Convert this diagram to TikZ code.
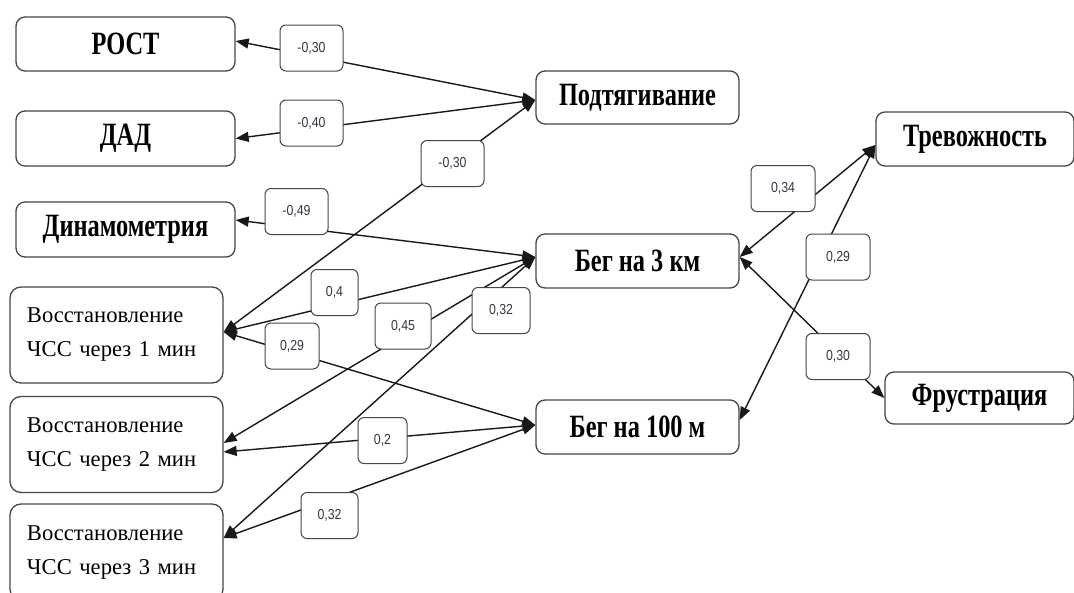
\documentclass[tikz,border=0pt]{standalone}
\usepackage{fontspec}
\setmainfont{Liberation Serif}
\newfontfamily\boldcond[FakeStretch=0.75]{Liberation Serif}
\newfontfamily\numfont[FakeStretch=0.85]{Liberation Sans}
\usetikzlibrary{arrows.meta}
\definecolor{labtext}{RGB}{60,50,72}
\definecolor{boxline}{RGB}{70,70,70}
\tikzset{
  x=1pt, y=-1pt,
  mainbox/.style={draw=boxline, line width=1.3pt, rounded corners=9pt, fill=white,
    inner sep=0pt, font=\boldcond\bfseries\fontsize{32.5}{32.5}\selectfont},
  recbox/.style={draw=boxline, line width=1.3pt, rounded corners=11pt, fill=white,
    inner xsep=17pt, inner ysep=0pt, text width=179pt, minimum height=96pt, align=left,
    font=\fontsize{22.6}{34}\selectfont},
  lab/.style={draw=boxline, line width=1pt, rounded corners=6pt, fill=white,
    inner sep=0pt, minimum height=46pt, text=labtext,
    font=\numfont\fontsize{14.5}{14.5}\selectfont},
  link/.style={line width=1.4pt, draw=black!90,
    {Triangle[length=13pt,width=10pt]}-{Triangle[length=13pt,width=10pt]}}
}
\begin{document}
\begin{tikzpicture}
\fill[white] (0,0) rectangle (1074,592);
\useasboundingbox (0,0) rectangle (1074,592);

% main nodes
\node[mainbox, minimum width=219pt, minimum height=54pt] (rost) at (125.5,44) {РОСТ};
\node[mainbox, minimum width=219pt, minimum height=55pt] (dad) at (125.5,138.5) {ДАД};
\node[mainbox, minimum width=219pt, minimum height=55pt] (dyn) at (125.5,229.5) {Динамометрия};
\node[recbox] (v1) at (116.5,335) {Восстановление\\ЧСС через 1 мин};
\node[recbox] (v2) at (116.5,444.5) {Восстановление\\ЧСС через 2 мин};
\node[recbox] (v3) at (116.5,552) {Восстановление\\ЧСС через 3 мин};
\node[mainbox, minimum width=203pt, minimum height=53pt] (pod) at (637.5,97.5) {Подтягивание};
\node[mainbox, minimum width=203pt, minimum height=54pt] (beg3) at (637.5,261) {Бег на 3 км};
\node[mainbox, minimum width=203pt, minimum height=54pt] (beg100) at (637.5,427) {Бег на 100 м};
\node[mainbox, minimum width=198pt, minimum height=54pt] (trev) at (975,139) {Тревожность};
\node[mainbox, minimum width=189pt, minimum height=52pt] (frus) at (979.5,398) {Фрустрация};

% connectors
\draw[link] ([yshift=3pt]rost.east) -- ([yshift=-2.5pt]pod.west);
\draw[link] (dad.east) -- ([yshift=-2.5pt]pod.west);
\draw[link] ([yshift=3pt]v1.east) -- ([yshift=-2.5pt]pod.west);
\draw[link] ([yshift=9.5pt]dyn.east) -- ([yshift=4pt]beg3.west);
\draw[link] ([yshift=3pt]v1.east) -- ([yshift=4pt]beg3.west);
\draw[link] ([yshift=1.5pt]v2.east) -- ([yshift=4pt]beg3.west);
\draw[link] ([yshift=14pt]v3.east) -- ([yshift=4pt]beg3.west);
\draw[link] ([yshift=3pt]v1.east) -- ([yshift=2pt]beg100.west);
\draw[link] ([yshift=-7.5pt]v2.east) -- ([yshift=2pt]beg100.west);
\draw[link] ([yshift=14pt]v3.east) -- ([yshift=2pt]beg100.west);
\draw[link] ([yshift=4pt]beg3.east) -- ([yshift=-6pt]trev.west);
\draw[link] ([yshift=7pt]beg100.east) -- ([yshift=-6pt]trev.west);
\draw[link] ([yshift=4pt]beg3.east) -- (frus.west);

% labels
\node[lab, minimum width=63pt] (l1) at (311.5,48) {-0,30};
\node[lab, minimum width=63pt] (l2) at (311.5,123) {-0,40};
\node[lab, minimum width=63pt] (l3) at (452.5,163.5) {-0,30};
\node[lab, minimum width=63pt] (l4) at (296.5,211.5) {-0,49};
\node[lab, minimum width=47pt] (l5) at (334.5,292.5) {0,4};
\node[lab, minimum width=56pt] (l6) at (403,326) {0,45};
\node[lab, minimum width=58pt] (l7) at (501,310.5) {0,32};
\node[lab, minimum width=54pt] (l8) at (292,346) {0,29};
\node[lab, minimum width=49pt] (l9) at (382.5,440.5) {0,2};
\node[lab, minimum width=57pt] (l10) at (329.5,515.5) {0,32};
\node[lab, minimum width=64pt] (l11) at (783,188.5) {0,34};
\node[lab, minimum width=64pt] (l12) at (838,257) {0,29};
\node[lab, minimum width=64pt] (l13) at (838,356.5) {0,30};
\end{tikzpicture}
\end{document}
